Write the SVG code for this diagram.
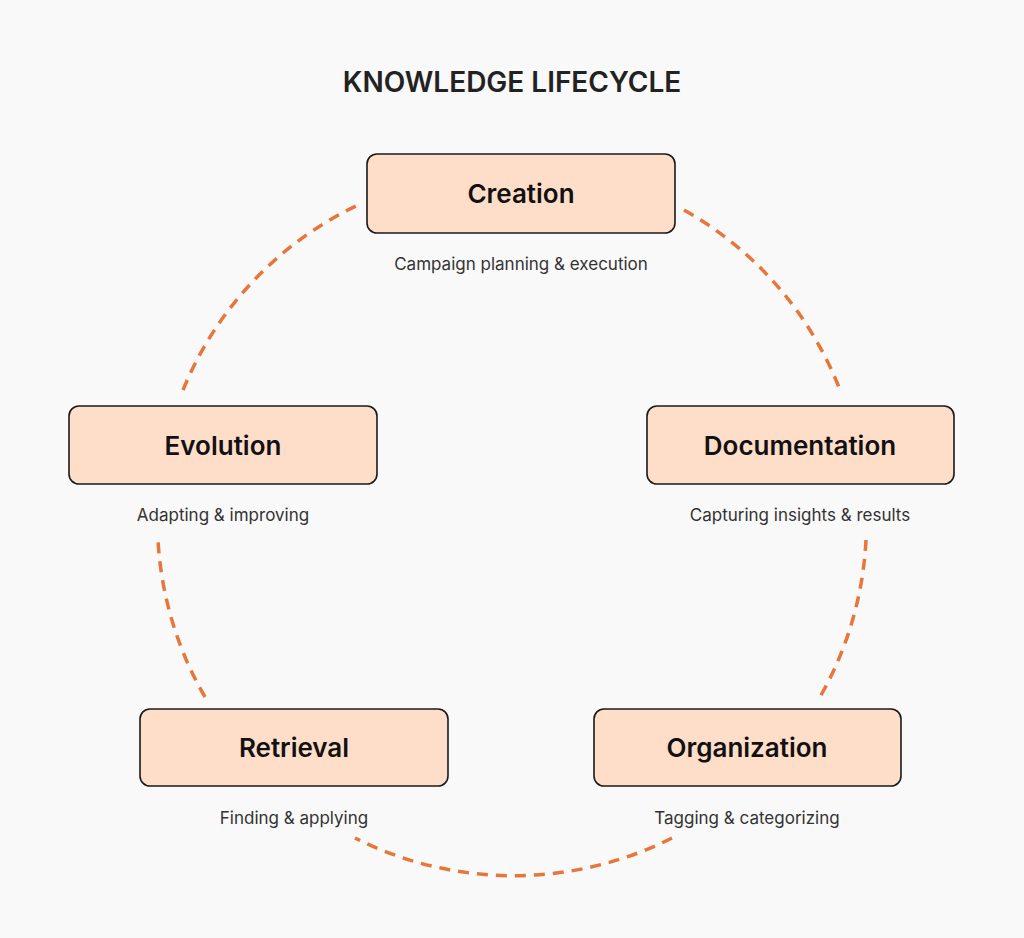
<svg xmlns="http://www.w3.org/2000/svg" width="1024" height="938" viewBox="0 0 1024 938">
<style>
.box{fill:#FEDDC9;stroke:#1a1a1a;stroke-width:1.6}
.lbl{font-family:Inter,"Liberation Sans",sans-serif;font-weight:600;font-size:26px;fill:#111;text-anchor:middle}
.sub{font-family:Inter,"Liberation Sans",sans-serif;font-size:17px;fill:#333;text-anchor:middle}
.arc{fill:none;stroke:#E8763A;stroke-width:3.5;stroke-dasharray:11 8}
</style>
<rect width="1024" height="938" fill="#F9F9F9"/>
<text x="512" y="92" font-family="Inter,'Liberation Sans',sans-serif" font-weight="600" font-size="28" fill="#222" text-anchor="middle">KNOWLEDGE LIFECYCLE</text>
<g id="connectors">
<path class="arc" d="M684,210 A352,352 0 0 1 840,390"/>
<path class="arc" d="M866,540 A352,352 0 0 1 820,697"/>
<path class="arc" d="M672,838 A352,352 0 0 1 355,838"/>
<path class="arc" d="M205,697 A352,352 0 0 1 158,540"/>
<path class="arc" d="M183,390 A352,352 0 0 1 358,205"/>
</g>
<g id="creation"><rect class="box" x="367" y="154" width="308" height="79" rx="10"/><text class="lbl" x="521" y="203">Creation</text><text class="sub" x="521" y="270">Campaign planning &amp; execution</text></g>
<g id="documentation"><rect class="box" x="647" y="406" width="307" height="78" rx="10"/><text class="lbl" x="800" y="455">Documentation</text><text class="sub" x="800" y="521">Capturing insights &amp; results</text></g>
<g id="organization"><rect class="box" x="594" y="709" width="307" height="77" rx="10"/><text class="lbl" x="747" y="757">Organization</text><text class="sub" x="747" y="824">Tagging &amp; categorizing</text></g>
<g id="retrieval"><rect class="box" x="140" y="709" width="308" height="77" rx="10"/><text class="lbl" x="294" y="757">Retrieval</text><text class="sub" x="294" y="824">Finding &amp; applying</text></g>
<g id="evolution"><rect class="box" x="69" y="406" width="308" height="78" rx="10"/><text class="lbl" x="223" y="455">Evolution</text><text class="sub" x="223" y="521">Adapting &amp; improving</text></g>
</svg>
